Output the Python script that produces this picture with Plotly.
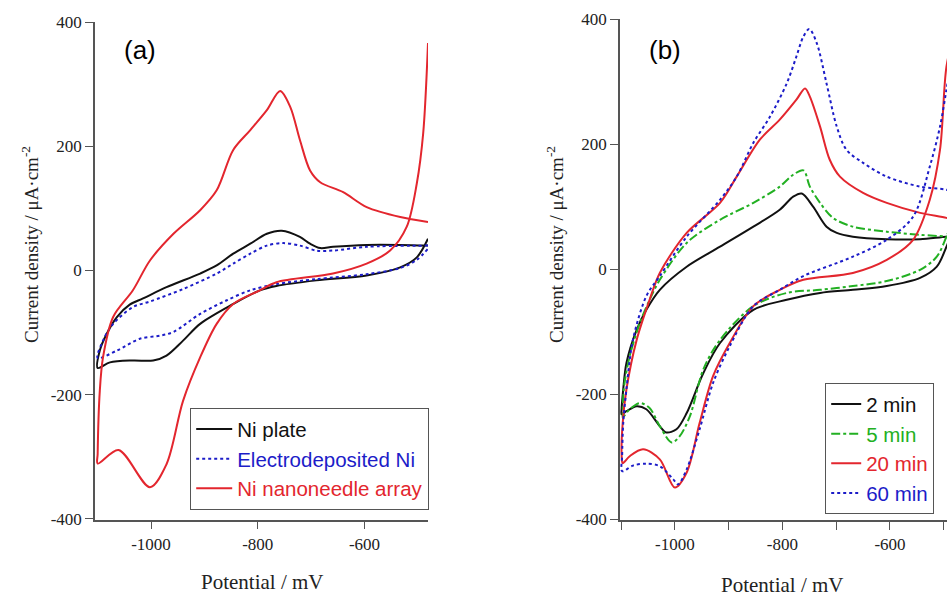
import plotly.graph_objects as go

# ---------- Panel (a) data: potential (mV), current density (uA/cm2) ----------
plate_x = [-481, -533, -596, -659, -683, -702, -721, -755, -783, -814, -846, -877, -908, -971, -1015, -1040,
           -1064, -1083, -1096, -1100,
           -1077, -1034, -996, -971, -940, -908, -846, -796, -765, -690, -596, -533, -502, -481]
plate_y = [40, 41, 41, 38, 36, 43, 54, 64, 59, 43, 27, 8, -5, -27, -45, -55,
           -75, -102, -129, -157,
           -148, -145, -145, -137, -113, -86, -54, -32, -25, -16, -8, 5, 21, 51]

edep_x = [-481, -596, -659, -690, -721, -752, -783, -814, -846, -877, -940, -1002, -1034, -1071, -1090, -1100,
          -1064, -1021, -983, -958, -908, -858, -814, -765, -690, -596, -533, -502, -481]
edep_y = [40, 38, 32, 32, 40, 44, 40, 27, 11, -5, -30, -50, -59, -86, -113, -141,
          -129, -110, -105, -99, -70, -48, -32, -22, -14, -6, 4, 17, 35]

needle_x = [-481, -533, -596, -640, -683, -702, -721, -739, -758, -783, -814, -846, -877, -908, -958, -1002,
            -1034, -1071, -1090, -1096, -1100,
            -1100, -1061, -1002, -971, -940, -908, -877, -846, -796, -765, -659, -596, -552, -521, -502, -490, -481]
needle_y = [78, 86, 102, 126, 142, 161, 210, 263, 289, 258, 226, 194, 129, 97, 59, 16,
            -32, -75, -140, -194, -295,
            -311, -289, -349, -312, -210, -140, -86, -54, -32, -19, -5, 11, 32, 70, 140, 221, 366]

# ---------- Panel (b) data ----------
m2_x = [-480, -495, -544, -606, -669, -699, -718, -743, -764, -780, -805, -854, -916, -978, -1028, -1053, -1071,
        -1090, -1096, -1099,
        -1099, -1090, -1071, -1053, -1028, -1016, -997, -978, -947, -916, -854, -792, -730, -669, -606, -544,
        -513, -495, -480]
m2_y = [52, 52, 48, 48, 52, 58, 68, 100, 121, 116, 95, 68, 36, 4, -33, -65, -97,
        -150, -192, -224,
        -232, -227, -219, -224, -251, -261, -256, -230, -166, -118, -65, -49, -38, -33, -27, -14,
        4, 36, 70]

m5_x = [-480, -495, -544, -606, -669, -706, -730, -749, -761, -780, -805, -854, -916, -978, -1028, -1047, -1065,
        -1084, -1095, -1097,
        -1097, -1084, -1065, -1047, -1028, -1006, -991, -972, -947, -916, -854, -792, -730, -669, -606, -544,
        -513, -495, -480]
m5_y = [50, 52, 55, 60, 68, 82, 106, 132, 158, 151, 132, 106, 79, 42, -17, -49, -86,
        -139, -192, -235,
        -237, -224, -214, -222, -251, -277, -267, -235, -160, -113, -59, -38, -33, -27, -19, -1,
        20, 52, 85]

m20_x = [-480, -495, -544, -606, -650, -693, -712, -730, -749, -758, -774, -805, -842, -885, -916, -978, -1028,
         -1047, -1071, -1090, -1097, -1099,
         -1097, -1084, -1059, -1028, -1000, -978, -954, -929, -898, -854, -805, -761, -669, -606, -557, -526,
         -507, -495, -480]
m20_y = [78, 82, 90, 106, 122, 148, 175, 228, 276, 289, 271, 239, 207, 148, 106, 58, -6,
         -49, -113, -192, -246, -296,
         -310, -299, -288, -304, -349, -325, -246, -171, -118, -59, -33, -17, -6, 15, 47, 111,
         191, 324, 380]

m60_x = [-480, -495, -544, -606, -650, -681, -699, -718, -736, -750, -761, -774, -792, -823, -854, -885, -916,
         -978, -1028, -1053, -1078, -1090, -1096, -1098,
         -1098, -1078, -1053, -1028, -1003, -994, -978, -954, -929, -898, -854, -805, -761, -669, -606, -557,
         -526, -507, -495, -480]
m60_y = [122, 127, 132, 148, 170, 191, 228, 297, 361, 384, 372, 340, 297, 244, 202, 148, 111,
         52, -11, -43, -113, -192, -246, -299,
         -323, -314, -311, -315, -336, -344, -320, -256, -182, -123, -59, -33, -11, 20, 47, 84,
         164, 228, 287, 360]

# ---------- Labels ----------
legend_a = ["Ni plate", "Electrodeposited Ni", "Ni nanoneedle array"]
legend_b = ["2 min", "5 min", "20 min", "60 min"]
x_major = [-1000, -800, -600]
y_ticks = [400, 200, 0, -200, -400]
xb_ticks = [-1100, -1000, -900, -800, -700, -600, -500]

BLACK = "#111111"
BLUE = "#1c1cc8"
RED = "#e3262e"
GREEN = "#22b022"
W = 2

fig = go.Figure()

def add(x, y, name, color, dash, xa, ya, leg):
    fig.add_trace(go.Scatter(
        x=x, y=y, name=f"<span style='color:{color}'>{name}</span>", mode="lines",
        line=dict(color=color, width=W, dash=dash, shape="spline", smoothing=0.9),
        xaxis=xa, yaxis=ya, legend=leg))

add(plate_x, plate_y, legend_a[0], BLACK, "solid", "x", "y", "legend")
add(edep_x, edep_y, legend_a[1], BLUE, "dot", "x", "y", "legend")
add(needle_x, needle_y, legend_a[2], RED, "solid", "x", "y", "legend")

add(m2_x, m2_y, legend_b[0], BLACK, "solid", "x2", "y2", "legend2")
add(m5_x, m5_y, legend_b[1], GREEN, "dashdot", "x2", "y2", "legend2")
add(m20_x, m20_y, legend_b[2], RED, "solid", "x2", "y2", "legend2")
add(m60_x, m60_y, legend_b[3], BLUE, "dot", "x2", "y2", "legend2")

tickfont = dict(family="Liberation Serif, Times New Roman, serif", size=17, color="#222")
axcol = "#555555"

common_y = dict(range=[-401, 400], tickvals=y_ticks, ticktext=[str(v) for v in y_ticks],
                ticks="outside", ticklen=8, tickwidth=1.2, tickcolor=axcol,
                showline=True, linecolor=axcol, linewidth=1.5, showgrid=False, zeroline=False,
                tickfont=tickfont)

legfont = dict(family="Liberation Sans, Arial, sans-serif", size=20.5, color="black")

fig.update_layout(
    width=947, height=598,
    margin=dict(l=0, r=0, t=0, b=0, autoexpand=False),
    paper_bgcolor="white", plot_bgcolor="white",
    xaxis=dict(domain=[95/947, 428/947], range=[-1105, -481], tickvals=x_major,
               ticktext=[str(v) for v in x_major], ticks="outside", ticklen=8, tickwidth=1.2,
               tickcolor=axcol, showline=True, linecolor=axcol, linewidth=1.5, showgrid=False,
               zeroline=False, tickfont=tickfont, anchor="y"),
    yaxis=dict(domain=[1-519.5/598, 1-22/598], anchor="x", **common_y),
    xaxis2=dict(domain=[620/947, 1.0], range=[-1102, -494], tickvals=xb_ticks,
                ticktext=[str(v) if v in x_major else "" for v in xb_ticks],
                ticks="outside", ticklen=8, tickwidth=1.2, tickcolor=axcol, showline=True,
                linecolor=axcol, linewidth=1.5, showgrid=False, zeroline=False,
                tickfont=tickfont, anchor="y2"),
    yaxis2=dict(domain=[1-520/598, 1-19/598], anchor="x2", **common_y),
    legend=dict(x=190/947, y=1-408/598, xanchor="left", yanchor="top",
                bgcolor="white", bordercolor="#555", borderwidth=1.2,
                font=legfont, itemwidth=36, tracegroupgap=0),
    legend2=dict(x=825/947, y=1-383/598, xanchor="left", yanchor="top",
                 bgcolor="white", bordercolor="#555", borderwidth=1.2,
                 font=legfont, itemwidth=30, tracegroupgap=0),
    showlegend=True,
)

xt_font = dict(family="Liberation Serif, Times New Roman, serif", size=21, color="#222")
yt_font = dict(family="Liberation Serif, Times New Roman, serif", size=19, color="#222")
ytitle = "Current density / μA·cm<sup>-2</sup>"
panel_font = dict(family="Liberation Sans, Arial, sans-serif", size=26, color="black")
annots = [
    dict(text="(a)", x=122/947, y=1-50/598, xanchor="left", yanchor="middle", font=panel_font),
    dict(text="(b)", x=647/947, y=1-50/598, xanchor="left", yanchor="middle", font=panel_font),
    dict(text="Potential / mV", x=262/947, y=1-582/598, xanchor="center", yanchor="middle", font=xt_font),
    dict(text="Potential / mV", x=782/947, y=1-585/598, xanchor="center", yanchor="middle", font=xt_font),
    dict(text=ytitle, x=30/947, y=1-245/598, textangle=-90, xanchor="center", yanchor="middle", font=yt_font),
    dict(text=ytitle, x=555/947, y=1-245/598, textangle=-90, xanchor="center", yanchor="middle", font=yt_font),
]
for a in annots:
    a.update(xref="paper", yref="paper", showarrow=False)
fig.update_layout(annotations=annots)

fig.write_html("out.html", config={"displayModeBar": False},
               post_script="document.body.style.margin='0';document.body.style.overflow='hidden';")
